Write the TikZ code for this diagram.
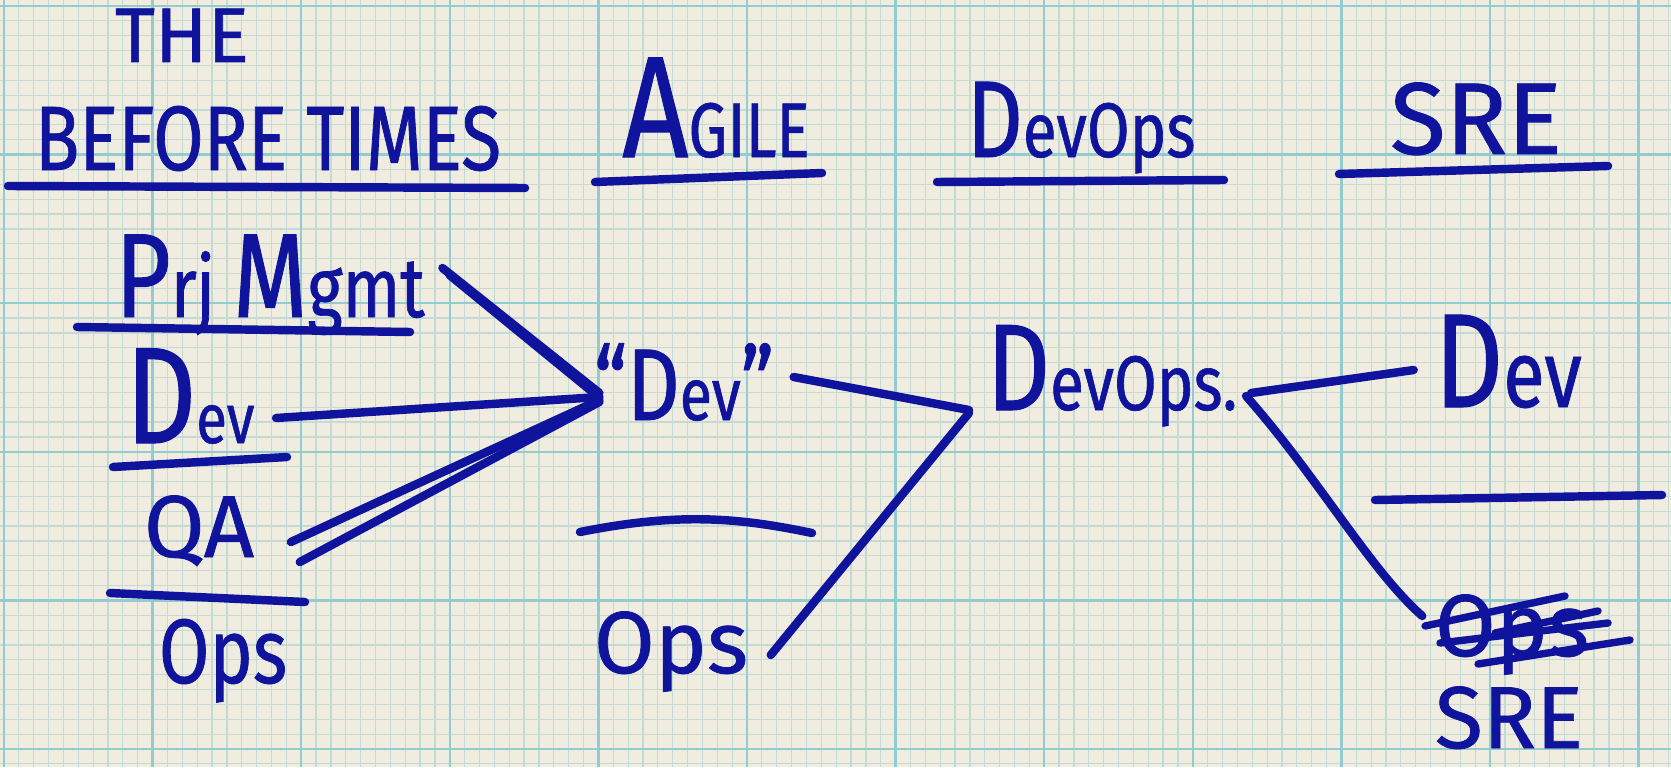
\documentclass[tikz,border=0pt]{standalone}
\usepackage{fontspec}
\usepackage{xcolor}
\usepackage{tikz}
\usetikzlibrary{positioning,calc}
\newfontfamily\hand[FakeBold=0.8]{Fira Sans}
\newfontfamily\handc[FakeStretch=0.8,FakeBold=0.8]{Fira Sans}
\newcommand\sz[1]{\fontsize{#1}{#1}\selectfont}
\definecolor{InkBlue}{RGB}{16,20,156}
\definecolor{PaperCream}{RGB}{240,236,224}
\definecolor{GridMajor}{RGB}{146,204,208}
\definecolor{GridMinor}{RGB}{196,219,213}
\tikzset{
    pen/.style={draw=InkBlue, line width=2.4pt, line cap=round, line join=round},
    minorline/.style={draw=GridMinor, line width=0.35pt},
    majorline/.style={draw=GridMajor, line width=0.7pt}
}

\begin{document}
\begin{tikzpicture}[
        x=0.01cm, y=-0.01cm,
        % --- STYLE CHỮ VIẾT TAY ---
        word/.style={
            text=InkBlue,
            inner sep=0pt,
            anchor=base
        },
        % Style chữ bị gạch
        struck/.style={
            pen,
            line width=2.1pt
        }
    ]
    \useasboundingbox (0,0) rectangle (1671,767);

    % --- GIẤY KẺ Ô ---
    \fill[PaperCream] (0,0) rectangle (1671,767);
    \foreach \i in {0,...,112} {
        \draw[minorline] ({4+14.86*\i},0) -- ({4+14.86*\i},767);
    }
    \foreach \j in {0,...,51} {
        \draw[minorline] (0,{6+14.86*\j}) -- (1671,{6+14.86*\j});
    }
    \foreach \i in {0,...,11} {
        \draw[majorline] ({4+148.6*\i},0) -- ({4+148.6*\i},767);
    }
    \foreach \j in {0,...,5} {
        \draw[majorline] (0,{6+148.6*\j}) -- (1671,{6+148.6*\j});
    }

    % --- TIÊU ĐỀ CÁC CỘT ---
    \node[word, font=\hand\sz{22pt}] (the) at (182,62) {THE};
    \node[word, font=\handc\sz{26pt}] (before) at (268,170) {BEFORE TIMES};
    \node[word, font=\handc] (agile) at (716,157) {{\sz{41pt}A}{\sz{22pt}GILE}};
    \node[word, font=\handc] (devopshead) at (1081,157) {{\sz{31pt}D}{\sz{22pt}evOps}};
    \node[word, font=\hand\sz{29pt}] (srehead) at (1476,154) {SRE};

    \draw[pen] (8,186) -- (525,188);
    \draw[pen] (595,182) -- (822,173);
    \draw[pen] (937,182) -- (1224,180);
    \draw[pen] (1339,174) -- (1608,166);

    % --- CỘT 1: TRƯỚC ĐÂY ---
    \node[word, font=\handc] (prj) at (270,317) {{\sz{34pt}P}{\sz{24pt}rj }{\sz{34pt}M}{\sz{24pt}gmt}};
    \draw[pen] (77,327) -- (410,332);
    \node[word, font=\handc] (bdev) at (190,443) {{\sz{39pt}D}{\sz{20pt}ev}};
    \draw[pen] (113,467) -- (287,457);
    \node[word, font=\hand\sz{25pt}] (qa) at (199,557) {QA};
    \draw[pen] (110,593) -- (305,602);
    \node[word, font=\handc\sz{26pt}] (bops) at (223,683) {Ops};

    % --- CỘT 2: AGILE ---
    \node[word, font=\handc] (adev) at (684,420) {{\sz{29pt}“D}{\sz{21pt}ev}{\sz{29pt}”}};
    \draw[pen] (580,532) .. controls (680,512) and (740,518) .. (812,533);
    \node[word, font=\hand\sz{25pt}] (aops) at (671,673) {Ops};

    % --- CỘT 3: DEVOPS ---
    \node[word, font=\handc] (dops) at (1112,410) {{\sz{35pt}D}{\sz{22pt}evOps.}};

    % --- CỘT 4: SRE ---
    \node[word, font=\handc] (sdev) at (1508,407) {{\sz{38pt}D}{\sz{27pt}ev}};
    \draw[pen] (1375,500) -- (1662,495);
    \node[word, font=\hand\sz{25pt}] (sops) at (1512,656) {Ops};
    \draw[struck] (1425,626) -- (1565,596);
    \draw[struck] (1440,643) -- (1608,623);
    \draw[struck] (1478,664) -- (1630,640);
    \draw[struck] (1495,633) -- (1598,611);
    \node[word, font=\hand\sz{25pt}] (ssre) at (1509,748) {SRE};

    % --- ĐƯỜNG NỐI ---
    \draw[pen] ([shift={(17,-49)}]prj.base east) -- ([shift={(6,-27)}]adev.base west);
    \draw[pen] ([shift={(24,-42)}]prj.base east) -- ([shift={(4,-24)}]adev.base west);
    \draw[pen] ([shift={(21,-25)}]bdev.base east) -- ([shift={(6,-23)}]adev.base west);
    \draw[pen] ([shift={(36,-15)}]qa.base east) -- ([shift={(6,-20)}]adev.base west);
    \draw[pen] ([shift={(45,5)}]qa.base east) -- ([shift={(6,-18)}]adev.base west);

    \draw[pen] ([shift={(19,-43)}]adev.base east) -- ([shift={(-17,0)}]dops.base west);
    \draw[pen] ([shift={(22,-18)}]aops.base east) -- ([shift={(-17,3)}]dops.base west);

    \draw[pen] ([shift={(-20,-37)}]sdev.base west) -- ([shift={(13,-17)}]dops.base east);
    \draw[pen] ([shift={(8,-14)}]dops.base east) .. controls (1320,480) and (1370,570) .. ([shift={(-12,-40)}]sops.base west);

\end{tikzpicture}
\end{document}
